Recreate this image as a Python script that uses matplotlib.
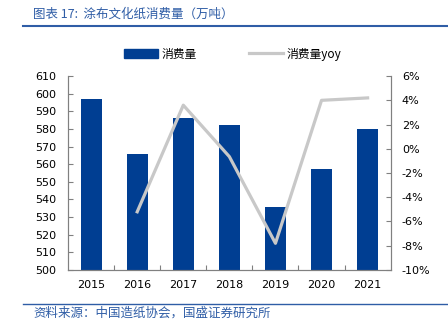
import matplotlib.pyplot as plt
from matplotlib.lines import Line2D
from matplotlib.patches import Patch
from matplotlib.ticker import FuncFormatter, FixedLocator

plt.rcParams['font.family'] = ['DejaVu Sans', 'Noto Sans CJK SC']

years = ['2015', '2016', '2017', '2018', '2019', '2020', '2021']
consumption = [597, 566, 586, 582, 536, 557, 580]
yoy_years = ['2016', '2017', '2018', '2019', '2020', '2021']
yoy = [-5.2, 3.6, -0.65, -7.8, 4.0, 4.2]

title = '图表 17:  涂布文化纸消费量（万吨）'
source = '资料来源：中国造纸协会，国盛证券研究所'

bar_color = '#003E92'
line_color = '#C8C8C8'
blue_text = '#2F5DA6'
axis_gray = '#808080'
cjk = ['Noto Sans CJK SC', 'DejaVu Sans']

fig = plt.figure(figsize=(4.48, 3.28), dpi=100)
ax = fig.add_axes([0.152, 0.177, 0.72, 0.591])

x = list(range(len(years)))
ax.bar(x, consumption, width=0.46, color=bar_color, zorder=2)
ax.set_xlim(-0.5, len(years) - 0.5)
ax.set_ylim(500, 610)
ax.set_yticks(range(500, 611, 10))
ax.set_xticks(x)
ax.set_xticklabels(years)
ax.xaxis.set_minor_locator(FixedLocator([i + 0.5 for i in range(len(years) - 1)]))

ax2 = ax.twinx()
xi = [years.index(y) for y in yoy_years]
ax2.plot(xi, yoy, color=line_color, lw=2.3, zorder=3)
ax2.set_ylim(-10, 6)
ax2.set_yticks(range(-10, 7, 2))
ax2.yaxis.set_major_formatter(FuncFormatter(lambda v, p: '%d%%' % v))

for a in (ax, ax2):
    a.spines['top'].set_visible(False)
    for s in ('left', 'right', 'bottom'):
        a.spines[s].set_color(axis_gray)
        a.spines[s].set_linewidth(0.8)
    a.tick_params(axis='both', which='both', direction='in', color=axis_gray,
                  labelsize=8, length=3.5, width=0.8, pad=4)
ax.tick_params(axis='x', which='major', length=0, pad=7)
ax.tick_params(axis='x', which='minor', length=3.5)
ax2.tick_params(axis='y', pad=8)
ax.tick_params(axis='y', pad=8.5)

handles = [Patch(facecolor=bar_color, edgecolor=bar_color),
           Line2D([0], [0], color=line_color, lw=2.3)]
fig.legend(handles, ['消费量', '消费量yoy'], loc='center', bbox_to_anchor=(0.52, 0.835),
           ncol=2, frameon=False, prop={'family': cjk, 'size': 8.5},
           handlelength=2.9, handleheight=0.8, handletextpad=0.3, columnspacing=4.4)

fig.text(0.074, 0.958, title, color=blue_text, fontsize=9, family=cjk,
         style='italic', va='center')
fig.add_artist(Line2D([0.052, 1.0], [0.921, 0.921], color=blue_text, lw=1.5))
fig.add_artist(Line2D([0.052, 1.0], [0.073, 0.073], color=blue_text, lw=1.0))
fig.text(0.074, 0.045, source, color=blue_text, fontsize=9, family=cjk,
         style='italic', va='center')

fig.savefig('out.png', dpi=100)
